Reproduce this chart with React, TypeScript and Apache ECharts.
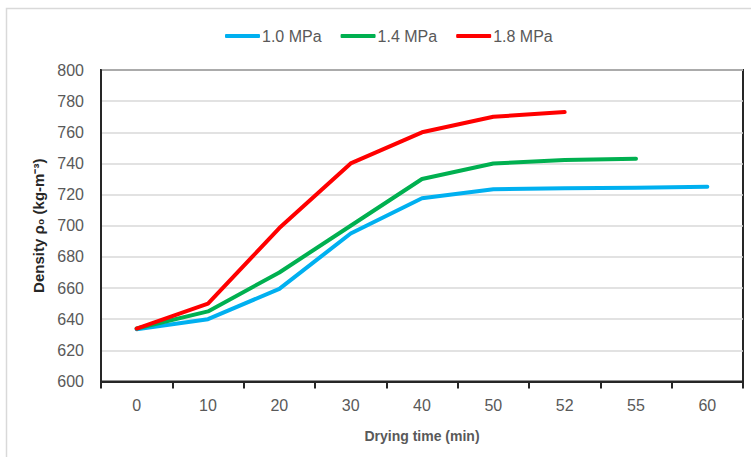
import React, { useEffect, useRef } from "react";
import * as echarts from "echarts";

const categories = ["0", "10", "20", "30", "40", "50", "52", "55", "60"];
const mpa10 = [633.5, 640, 659.5, 695, 717.7, 723.5, 724, 724.4, 725];
const mpa14 = [634, 645, 670, 700, 730, 740, 742.2, 743, null];
const mpa18 = [634, 650, 698.5, 740, 760, 770, 773, null, null];
const seriesNames = ["1.0 MPa", "1.4 MPa", "1.8 MPa"];
const seriesColors = ["#00b0f0", "#00b050", "#ff0000"];

const FONT = "Liberation Sans";
const GRAY = "#595959";

export default function App() {
  const ref = useRef<HTMLDivElement>(null);
  useEffect(() => {
    document.body.style.margin = "0";
    const chart = echarts.init(ref.current!, null, { renderer: "svg" });
    const datas = [mpa10, mpa14, mpa18];
    chart.setOption({
      animation: false,
      backgroundColor: "#ffffff",
      graphic: [
        {
          type: "rect",
          shape: { x: 6.5, y: 8.5, width: 780, height: 480 },
          style: { fill: "none", stroke: "#d9d9d9", lineWidth: 1.5 },
          silent: true,
          z: -1,
        },
      ],
      legend: {
        top: 23,
        left: 220,
        itemWidth: 35,
        itemHeight: 4,
        itemGap: 19,
        icon: "roundRect",
        textStyle: { fontFamily: FONT, fontSize: 16, color: GRAY, padding: [0, 0, 0, -3] },
        data: seriesNames,
      },
      grid: {
        left: 101,
        right: 8,
        top: 70,
        bottom: 75.5,
        show: true,
        borderColor: "#262626",
        borderWidth: 2,
        containLabel: false,
      },
      xAxis: {
        type: "category",
        data: categories,
        boundaryGap: true,
        name: "Drying time (min)",
        nameLocation: "middle",
        nameGap: 47,
        nameTextStyle: { fontFamily: FONT, fontSize: 14, fontWeight: "bold", color: GRAY },
        axisLine: { show: true, lineStyle: { color: "#262626", width: 2 } },
        axisTick: { show: true, length: 7, lineStyle: { color: "#262626", width: 2 }, alignWithLabel: false },
        axisLabel: { fontFamily: FONT, fontSize: 16, color: GRAY, margin: 16 },
        splitLine: { show: false },
      },
      yAxis: {
        type: "value",
        min: 600,
        max: 800,
        interval: 20,
        name: "Density ρ₀ (kg-m⁻³)",
        nameLocation: "middle",
        nameRotate: 90,
        nameGap: 44,
        nameTextStyle: { fontFamily: FONT, fontSize: 15, fontWeight: "bold", color: "#262626" },
        axisLine: { show: true, lineStyle: { color: "#262626", width: 2 } },
        axisTick: { show: false },
        axisLabel: { fontFamily: FONT, fontSize: 16, color: GRAY, margin: 17 },
        splitLine: { show: true, lineStyle: { color: "#d9d9d9", width: 1.5 } },
      },
      series: datas.map((d, i) => ({
        name: seriesNames[i],
        type: "line",
        data: d,
        symbol: "none",
        showSymbol: false,
        connectNulls: false,
        lineStyle: { color: seriesColors[i], width: 4, cap: "round", join: "round" },
        itemStyle: { color: seriesColors[i] },
        z: 3,
      })),
    });
    return () => chart.dispose();
  }, []);
  return <div ref={ref} style={{ width: 751, height: 457 }} />;
}
